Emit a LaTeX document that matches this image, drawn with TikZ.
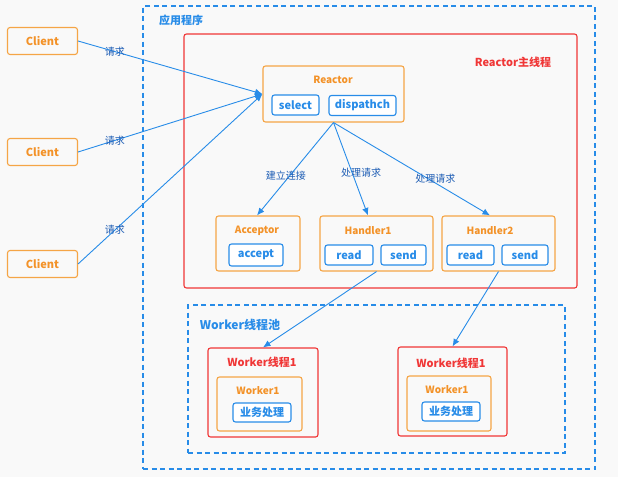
\documentclass[tikz,border=0pt]{standalone}
\usepackage{fontspec}
\setmainfont{Noto Sans CJK SC}
\usetikzlibrary{arrows.meta,positioning,calc}

\definecolor{orng}{RGB}{245,165,70}
\definecolor{orngtxt}{RGB}{243,146,40}
\definecolor{blu}{RGB}{40,140,232}
\definecolor{lblblu}{RGB}{28,92,180}
\definecolor{rd}{RGB}{240,55,55}
\definecolor{bgc}{RGB}{249,249,249}

\begin{document}
\begin{tikzpicture}[
    x=1pt, y=-1pt,
    comp/.style={rectangle, draw=orng, line width=1.1pt, rounded corners=2.5pt, inner sep=0pt},
    client/.style={comp, minimum width=70pt, minimum height=27pt, text=orngtxt,
                   font=\bfseries\fontsize{11}{13}\selectfont},
    btn/.style={rectangle, draw=blu, fill=white, line width=1.1pt, rounded corners=2.5pt,
                inner sep=0pt, minimum height=20pt, text=blu, font=\bfseries\fontsize{11}{13}\selectfont},
    ttl/.style={text=orngtxt, inner sep=0pt, font=\bfseries\fontsize{10}{12}\selectfont},
    thread/.style={rectangle, draw=rd, line width=1.1pt, rounded corners=2.5pt, inner sep=0pt},
    dashbox/.style={rectangle, draw=blu, line width=1.1pt, dash pattern=on 5pt off 3.5pt, inner sep=0pt},
    head/.style={inner sep=0pt, font=\bfseries\fontsize{11}{13}\selectfont},
    req/.style={text=lblblu, inner sep=1pt, font=\fontsize{10}{12}\selectfont},
    flow/.style={-{Latex[length=7.5pt,width=6.5pt]}, draw=blu, line width=0.9pt}
]
\fill[bgc] (0,0) rectangle (618,477);
\useasboundingbox (0,0) rectangle (618,477);

%% ── Containers ───────────────────────────────────────────────────
\node[dashbox, minimum width=452pt, minimum height=463pt] (app)  at (369,237.5) {};
\node[thread,  minimum width=393pt, minimum height=254pt] (main) at (380.5,161) {};
\node[dashbox, minimum width=377pt, minimum height=148pt] (pool) at (376.5,379) {};
\node[head, text=blu] at (181,20)  {应用程序};
\node[head, text=rd]  at (513,62)  {Reactor主线程};
\node[head, text=blu, font=\bfseries\fontsize{12}{14}\selectfont] at (240,325) {Worker线程池};

%% ── Clients ──────────────────────────────────────────────────────
\node[client] (c1) at (42.5,41)  {Client};
\node[client] (c2) at (42.5,152) {Client};
\node[client] (c3) at (42.5,264) {Client};

%% ── Reactor ──────────────────────────────────────────────────────
\node[comp, minimum width=141pt, minimum height=56pt] (reactor) at (333.5,94) {};
\node[ttl] (rtitle) at (333,80) {Reactor};
\node[btn, minimum width=47pt] (select)   at (295.5,105)   {select};
\node[btn, minimum width=67pt] (dispatch) at (362.5,105.5) {dispathch};

%% ── Acceptor / Handlers ──────────────────────────────────────────
\node[comp, minimum width=84pt,  minimum height=55pt] (acceptor) at (258,243.5)   {};
\node[ttl] (atitle) at (257,231) {Acceptor};
\node[btn, minimum width=54pt, minimum height=22pt] (accept) at (256,255) {accept};

\node[comp, minimum width=113pt, minimum height=55pt] (handler1) at (376.5,243.5) {};
\node[ttl] (h1title) at (368,231) {Handler1};
\node[btn, minimum width=48pt] (read1) at (349,255)   {read};
\node[btn, minimum width=45pt] (send1) at (403.5,255) {send};

\node[comp, minimum width=113pt, minimum height=55pt] (handler2) at (498.5,243.5) {};
\node[ttl] (h2title) at (490,231) {Handler2};
\node[btn, minimum width=47pt] (read2) at (470.5,255) {read};
\node[btn, minimum width=46pt] (send2) at (525,255)   {send};

%% ── Workers ──────────────────────────────────────────────────────
\node[thread, minimum width=110pt, minimum height=89pt] (wt1) at (263,392.5) {};
\node[head, text=rd] at (262,362) {Worker线程1};
\node[comp, minimum width=85pt, minimum height=54pt] (wk1) at (259.5,404) {};
\node[ttl] at (258,391) {Worker1};
\node[btn, minimum width=58pt, minimum height=19pt] (biz1) at (262,412.5) {业务处理};

\node[thread, minimum width=109pt, minimum height=89pt] (wt2) at (452.5,391.5) {};
\node[head, text=rd] at (451,363) {Worker线程1};
\node[comp, minimum width=84pt, minimum height=55pt] (wk2) at (449,403.5) {};
\node[ttl] at (447,390) {Worker1};
\node[btn, minimum width=58pt, minimum height=19pt] (biz2) at (451,411.5) {业务处理};

%% ── Arrows ───────────────────────────────────────────────────────
\draw[flow] (c1.east) -- node[req, pos=0.2] {请求} (reactor.west);
\draw[flow] (c2.east) -- node[req, pos=0.2] {请求} (reactor.west);
\draw[flow] (c3.east) -- node[req, pos=0.2] {请求} (reactor.west);

\draw[flow] (reactor.south) -- node[req, pos=0.57, xshift=-4pt] {建立连接} (atitle |- acceptor.north);
\draw[flow] (reactor.south) -- node[req, pos=0.54, xshift=9pt]  {处理请求} (h1title |- handler1.north);
\draw[flow] (reactor.south) -- node[req, pos=0.6,  xshift=8pt]  {处理请求} (h2title |- handler2.north);

\draw[flow] (handler1.south) -- (wt1.north);
\draw[flow] (handler2.south) -- (wt2.north);

\end{tikzpicture}
\end{document}
